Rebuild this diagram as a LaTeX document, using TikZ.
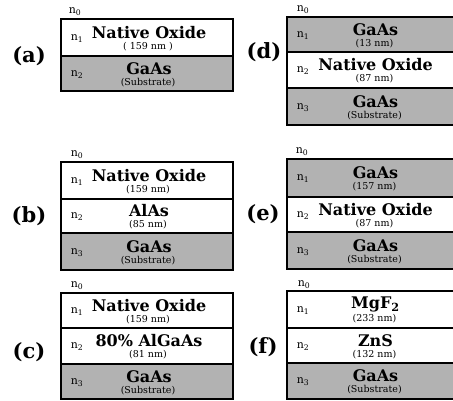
\documentclass[tikz,border=0pt]{standalone}
\usepackage{fontspec}
\setmainfont{DejaVu Serif}
\definecolor{gaas}{gray}{0.7}
\tikzset{
  layerbox/.style={draw=black, line width=1.3pt},
  maintext/.style={font=\fontsize{16}{17}\selectfont\bfseries, inner sep=0pt},
  subtext/.style={font=\fontsize{9.5}{10}\selectfont, inner sep=0pt},
  nlab/.style={font=\fontsize{11}{12}\selectfont, inner sep=0pt},
  panellab/.style={font=\fontsize{21}{23}\selectfont\bfseries, inner sep=0pt}
}
% name, x1, x2, ytop, ybot, fill, main, sub, index
\newcommand\mylayer[9]{%
  \path[layerbox, fill=#6] (#2,#4) rectangle (#3,#5);
  \node[maintext] (#1m) at ({(#2+#3)/2+2}, {(#4+#5)/2-5}) {#7};
  \node[subtext] (#1s) at ({(#2+#3)/2+1}, {(#4+#5)/2+9}) {#8};
  \node[nlab] (#1n) at ({#2+16}, {(#4+#5)/2+1}) {n\textsubscript{#9}};
}
\begin{document}
\begin{tikzpicture}[x=1pt,y=-1pt]
\useasboundingbox (0,0) rectangle (453,400);
% (a)
\node[panellab] (pa) at (29,56) {(a)};
\node[nlab] (a0) at (75,12) {n\textsubscript{0}};
\mylayer{a1}{61}{233}{19}{56}{white}{Native Oxide}{( 159 nm )}{1}
\mylayer{a2}{61}{233}{56}{91}{gaas}{GaAs}{(Substrate)}{2}
% (d)
\node[panellab] (pd) at (264,52) {(d)};
\node[nlab] (d0) at (303,10) {n\textsubscript{0}};
\mylayer{d1}{287}{460}{17}{52}{gaas}{GaAs}{(13 nm)}{1}
\mylayer{d2}{287}{460}{52}{88}{white}{Native Oxide}{(87 nm)}{2}
\mylayer{d3}{287}{460}{88}{125}{gaas}{GaAs}{(Substrate)}{3}
% (b)
\node[panellab] (pb) at (29,216) {(b)};
\node[nlab] (b0) at (77,155) {n\textsubscript{0}};
\mylayer{b1}{61}{233}{162}{199}{white}{Native Oxide}{(159 nm)}{1}
\mylayer{b2}{61}{233}{199}{233}{white}{AlAs}{(85 nm)}{2}
\mylayer{b3}{61}{233}{233}{270}{gaas}{GaAs}{(Substrate)}{3}
% (e)
\node[panellab] (pe) at (263,214) {(e)};
\node[nlab] (e0) at (302,152) {n\textsubscript{0}};
\mylayer{e1}{287}{460}{159}{197}{gaas}{GaAs}{(157 nm)}{1}
\mylayer{e2}{287}{460}{197}{232}{white}{Native Oxide}{(87 nm)}{2}
\mylayer{e3}{287}{460}{232}{269}{gaas}{GaAs}{(Substrate)}{3}
% (c)
\node[panellab] (pc) at (29,352) {(c)};
\node[nlab] (c0) at (77,286) {n\textsubscript{0}};
\mylayer{c1}{61}{233}{293}{328}{white}{Native Oxide}{(159 nm)}{1}
\mylayer{c2}{61}{233}{328}{364}{white}{80\% AlGaAs}{(81 nm)}{2}
\mylayer{c3}{61}{233}{364}{399}{gaas}{GaAs}{(Substrate)}{3}
% (f)
\node[panellab] (pf) at (263,347) {(f)};
\node[nlab] (f0) at (304,285) {n\textsubscript{0}};
\mylayer{f1}{287}{460}{291}{328}{white}{MgF\textsubscript{2}}{(233 nm)}{1}
\mylayer{f2}{287}{460}{328}{363}{white}{ZnS}{(132 nm)}{2}
\mylayer{f3}{287}{460}{363}{399}{gaas}{GaAs}{(Substrate)}{3}
\end{tikzpicture}
\end{document}
